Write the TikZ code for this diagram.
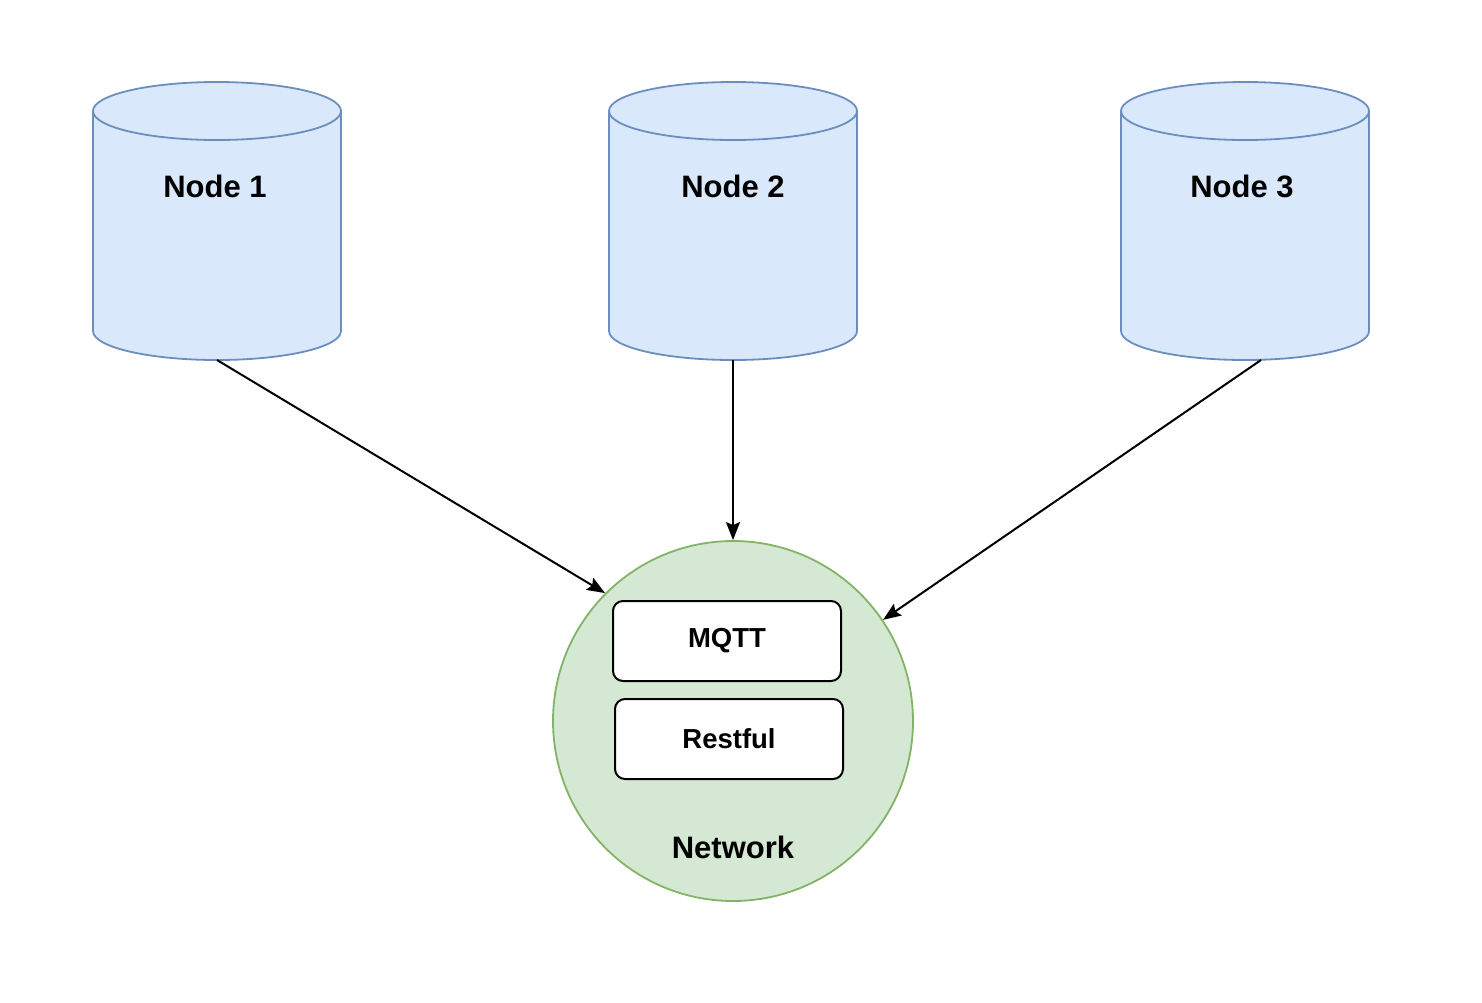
\documentclass[tikz,border=0pt]{standalone}
\usepackage{fontspec}
\setmainfont{Liberation Sans}
\usetikzlibrary{positioning,arrows.meta}
\definecolor{dbfill}{HTML}{DAE8FC}
\definecolor{dbline}{HTML}{6C8EBF}
\definecolor{netfill}{HTML}{D5E8D4}
\definecolor{netline}{HTML}{82B366}
\begin{document}
\begin{tikzpicture}[x=1pt, y=1pt,
        db/.style = {minimum width=248pt, minimum height=278pt, inner sep=0pt, outer sep=0pt},
        dbshape/.style = {draw=dbline, line width=1.8pt},
        dblabel/.style = {font=\fontsize{31}{36}\selectfont\bfseries},
        proto/.style = {draw, rounded corners=10pt, fill=white, line width=2pt, minimum width=228pt, minimum height=80pt, font=\fontsize{27.5}{33}\selectfont\bfseries},
        link/.style = {-{Stealth[length=18pt, width=14pt, inset=3pt]}, line width=2pt}]
    \useasboundingbox (0,0) rectangle (1482,-1002);
    % databases
    \node [db] (N1) at (217,-221) {};
    \node [db] (N2) [right = 268pt of N1] {};
    \node [db] (N3) [right = 264pt of N2] {};
    \foreach \n in {N1,N2,N3} {
        \draw [dbshape, fill=dbfill] ([yshift=-29pt]\n.north west) -- ([yshift=29pt]\n.south west)
            arc [start angle=180, end angle=360, x radius=124pt, y radius=29pt]
            -- ([yshift=-29pt]\n.north east)
            arc [start angle=0, end angle=180, x radius=124pt, y radius=29pt] -- cycle;
        \draw [dbshape] ([yshift=-29pt]\n.north west)
            arc [start angle=180, end angle=360, x radius=124pt, y radius=29pt];
    }
    \node [dblabel] (L1) at ([yshift=-104pt, xshift=-2pt]N1.north) {Node 1};
    \node [dblabel] (L2) at ([yshift=-104pt]N2.north) {Node 2};
    \node [dblabel] (L3) at ([yshift=-104pt, xshift=-3pt]N3.north) {Node 3};
    % network
    \node [circle, draw=netline, fill=netfill, line width=1.8pt, minimum size=360pt, inner sep=0pt] (Net) at (733,-721) {};
    \node [dblabel] (NetL) at ([yshift=54pt]Net.south) {Network};
    \node [proto] (MQTT) at (727,-641) {MQTT};
    \node [proto] (Rest) [below right = 16pt and -228pt of MQTT] {Restful};

    \draw [link] (N1.south) -- (Net.135);
    \draw [link] (N2.south) -- (Net.north);
    \draw [link] ([xshift=16pt]N3.south) -- (Net.34);
\end{tikzpicture}
\end{document}
